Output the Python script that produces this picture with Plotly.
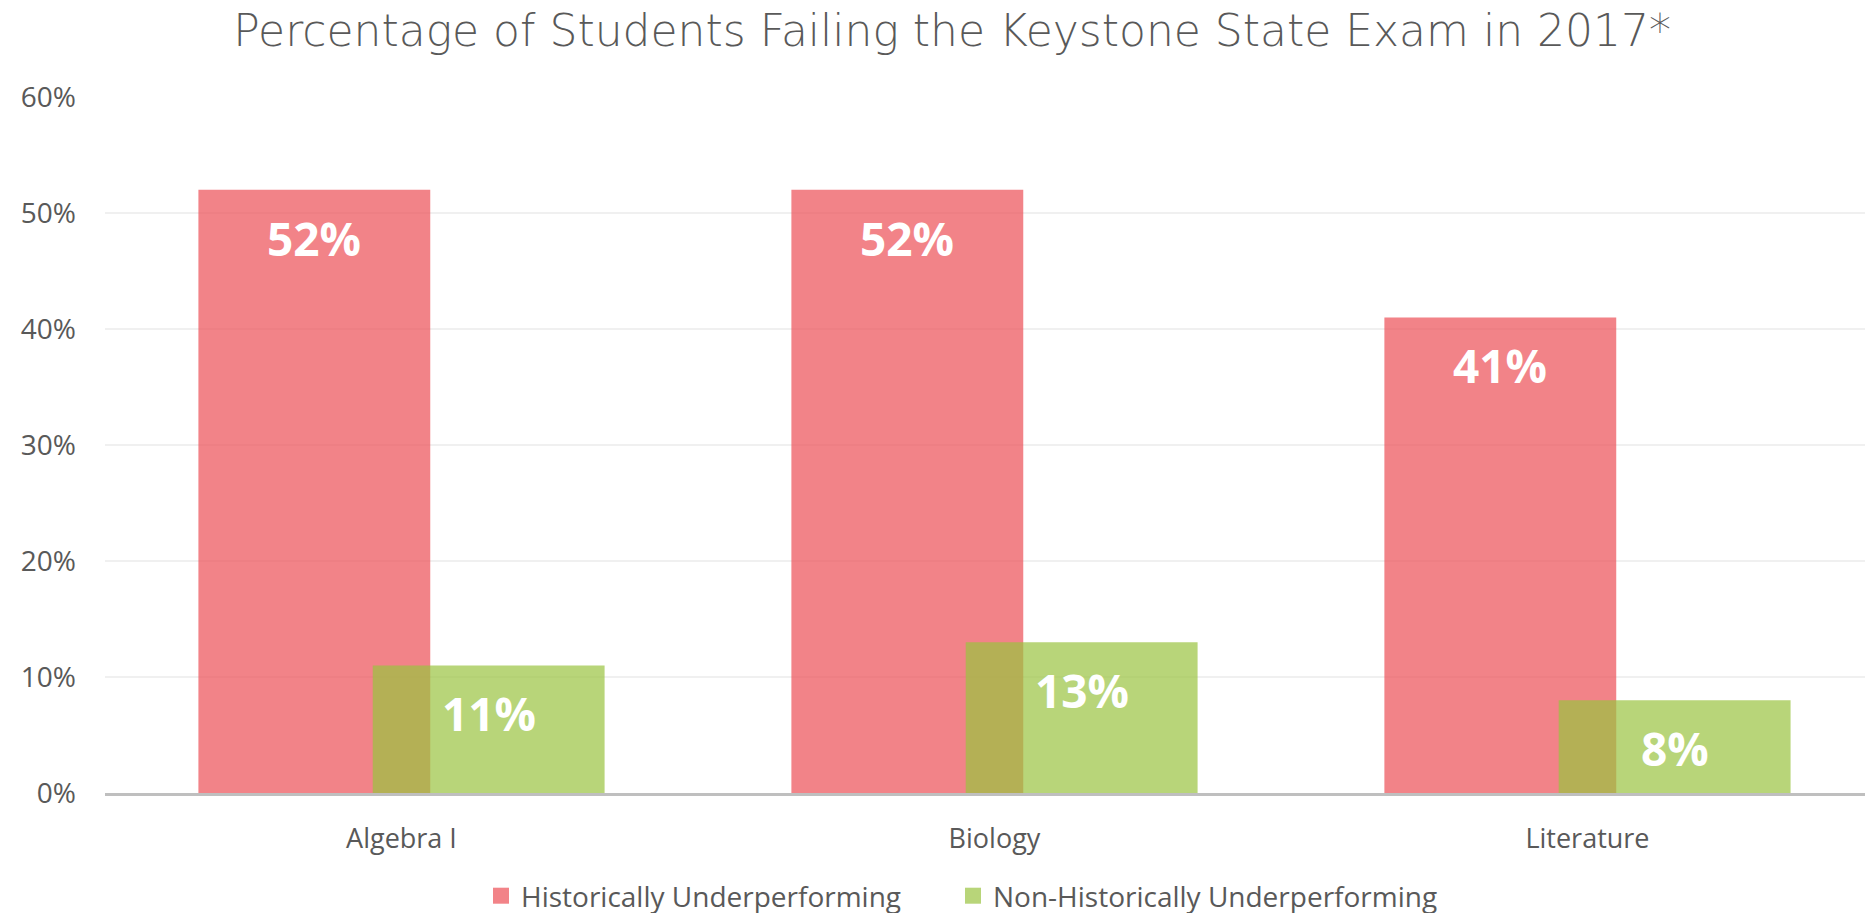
import plotly.graph_objects as go

categories = ["Algebra I", "Biology", "Literature"]
historically = [52, 52, 41]
non_historically = [11, 13, 8]
series_names = ["Historically Underperforming", "Non-Historically Underperforming"]
y_ticks = [0, 10, 20, 30, 40, 50, 60]
y_tick_labels = ["0%", "10%", "20%", "30%", "40%", "50%", "60%"]
title_text = "Percentage of Students Failing the Keystone State Exam in 2017*"

RED = "rgba(236,78,86,0.7)"
GREEN = "rgba(154,195,64,0.7)"
TXT = "#595959"
BAR_W = 0.391
SHIFT = 0.147

xpos = list(range(len(categories)))

fig = go.Figure()
fig.add_trace(go.Bar(
    x=xpos, y=historically, name=series_names[0], marker_color=RED,
    marker_line_width=0, width=BAR_W, offset=-SHIFT - BAR_W / 2,
    showlegend=False, hoverinfo="skip"))
fig.add_trace(go.Bar(
    x=xpos, y=non_historically, name=series_names[1], marker_color=GREEN,
    marker_line_width=0, width=BAR_W, offset=SHIFT - BAR_W / 2,
    showlegend=False, hoverinfo="skip"))

# legend proxies, one legend each for exact placement
for nm, col, lg in zip(series_names, [RED, GREEN], ["legend", "legend2"]):
    fig.add_trace(go.Scatter(x=[None], y=[None], mode="markers", name=nm, legend=lg,
                             marker=dict(symbol="square", size=18, color=col)))

annotations = []
for i, v in enumerate(historically):
    annotations.append(dict(x=i - SHIFT, y=v, xref="x", yref="y", text=f"{v}%",
                            showarrow=False, yshift=-48,
                            font=dict(family="Open Sans", size=46, color="white", weight="bold")))
for i, v in enumerate(non_historically):
    annotations.append(dict(x=i + SHIFT, y=v, xref="x", yref="y", text=f"{v}%",
                            showarrow=False, yshift=-48,
                            font=dict(family="Open Sans", size=46, color="white", weight="bold")))

legend_font = dict(family="Open Sans", size=28, color=TXT)
fig.update_layout(
    width=1865, height=913,
    paper_bgcolor="white", plot_bgcolor="white",
    barmode="overlay",
    margin=dict(l=105, r=0, t=97, b=120),
    title=dict(text=title_text, x=0.5105, xref="container", xanchor="center",
               y=1 - 31 / 913, yref="container", yanchor="middle",
               font=dict(family="DejaVu Sans", size=44, color=TXT, weight=300)),
    xaxis=dict(range=[-0.5, 2.468], tickmode="array", tickvals=xpos, ticktext=categories,
               showgrid=False, zeroline=False, showline=True, linecolor="#BFBFBF", linewidth=2.5,
               ticks="", ticklabelstandoff=20,
               tickfont=dict(family="Open Sans", size=27, color=TXT)),
    yaxis=dict(range=[0, 60], tickmode="array", tickvals=y_ticks, ticktext=y_tick_labels,
               showgrid=True, gridcolor="#F0F0F0", gridwidth=2, zeroline=False, showline=False,
               ticks="", ticklabelstandoff=28,
               tickfont=dict(family="Open Sans", size=28, color=TXT)),
    legend=dict(orientation="h", xref="container", yref="container", x=481 / 1865, y=1 - 896 / 913,
                xanchor="left", yanchor="middle", font=legend_font, itemclick=False),
    legend2=dict(orientation="h", xref="container", yref="container", x=953 / 1865, y=1 - 896 / 913,
                 xanchor="left", yanchor="middle", font=legend_font, itemclick=False),
    annotations=annotations,
    showlegend=True,
)

fig.write_html("out.html", post_script="document.body.style.margin='0';",
               config={"displayModeBar": False})
